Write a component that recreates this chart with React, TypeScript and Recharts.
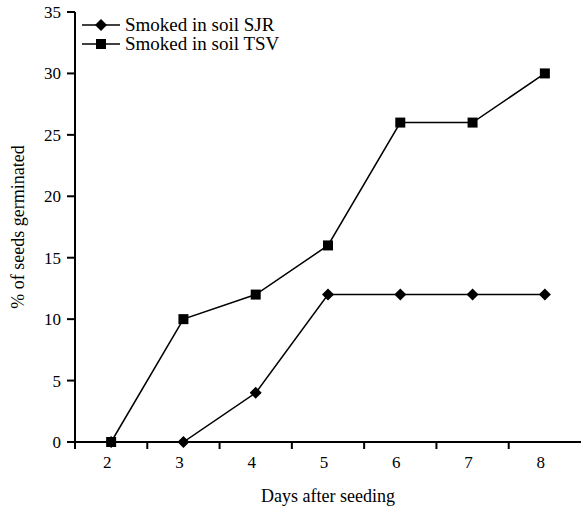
import { LineChart, Line, XAxis, YAxis } from "recharts";

const days = ["2", "3", "4", "5", "6", "7", "8"];
const sjrValues = [0, 0, 4, 12, 12, 12, 12];
const tsvValues = [0, 10, 12, 16, 26, 26, 30];
const yTicks = [0, 5, 10, 15, 20, 25, 30, 35];
const seriesNames = ["Smoked in soil SJR", "Smoked in soil TSV"];

const data = days.map((d, i) => ({ day: d, sjr: sjrValues[i], tsv: tsvValues[i] }));

const FONT = "Liberation Serif";
const HALF_BAND = (581 - 75) / 7 / 2;

const Diamond = (props: any) => {
    const { cx, cy } = props;
    if (cx == null || cy == null) return null;
    const r = 6;
    return <polygon points={`${cx},${cy - r} ${cx + r},${cy} ${cx},${cy + r} ${cx - r},${cy}`} fill="#000" />;
};

const Square = (props: any) => {
    const { cx, cy } = props;
    if (cx == null || cy == null) return null;
    return <rect x={cx - 5} y={cy - 5} width={10} height={10} fill="#000" />;
};

const XTick = (props: any) => {
    const { x, y, payload } = props;
    return (
        <g>
            <line x1={x - HALF_BAND} x2={x - HALF_BAND} y1={y - 8} y2={y - 1} stroke="#000" strokeWidth={2} />
            <text x={x - 4} y={y + 18} textAnchor="middle" fontFamily={FONT} fontSize={17} fill="#000">
                {payload.value}
            </text>
        </g>
    );
};

// legend drawn as an overlay so it doesn't shrink the plot
const LegendBox = () => (
    <div style={{ position: "absolute", left: 78, top: 15, fontFamily: FONT, fontSize: 19, color: "#000", lineHeight: "19px" }}>
        {seriesNames.map((label, i) => {
            const Icon = i === 0 ? Diamond : Square;
            return (
                <div key={label} style={{ display: "flex", alignItems: "center", height: 19 }}>
                    <svg width={47} height={19}>
                        <line x1={4} x2={42} y1={10} y2={10} stroke="#000" strokeWidth={1.5} />
                        <Icon cx={23} cy={10} />
                    </svg>
                    <span>{label}</span>
                </div>
            );
        })}
    </div>
);

export default function App() {
    return (
        <div style={{ position: "absolute", left: 0, top: 0, width: 582, height: 508, background: "#fff", fontFamily: FONT }}>
            <LineChart width={582} height={508} data={data} margin={{ top: 12, right: 1, bottom: 0, left: 0 }}>
                <XAxis
                    dataKey="day"
                    scale="band"
                    axisLine={{ stroke: "#000", strokeWidth: 2 }}
                    tickLine={false}
                    tick={<XTick />}
                    height={66}
                    label={{ value: "Days after seeding", position: "insideBottom", offset: 6, fill: "#000", fontSize: 18, fontFamily: FONT }}
                />
                <YAxis
                    domain={[0, 35]}
                    ticks={yTicks}
                    width={75}
                    axisLine={{ stroke: "#000", strokeWidth: 2 }}
                    tickLine={{ stroke: "#000", strokeWidth: 2 }}
                    tickSize={8}
                    tickMargin={6}
                    tick={{ fill: "#000", fontSize: 17, fontFamily: FONT }}
                    label={{ value: "% of seeds germinated", angle: -90, position: "insideLeft", offset: 18, fill: "#000", fontSize: 18, fontFamily: FONT, style: { textAnchor: "middle" } }}
                />
                <Line dataKey="sjr" name={seriesNames[0]} stroke="#000" strokeWidth={1.5} dot={<Diamond />} activeDot={false} isAnimationActive={false} />
                <Line dataKey="tsv" name={seriesNames[1]} stroke="#000" strokeWidth={1.5} dot={<Square />} activeDot={false} isAnimationActive={false} />
            </LineChart>
            <LegendBox />
        </div>
    );
}
